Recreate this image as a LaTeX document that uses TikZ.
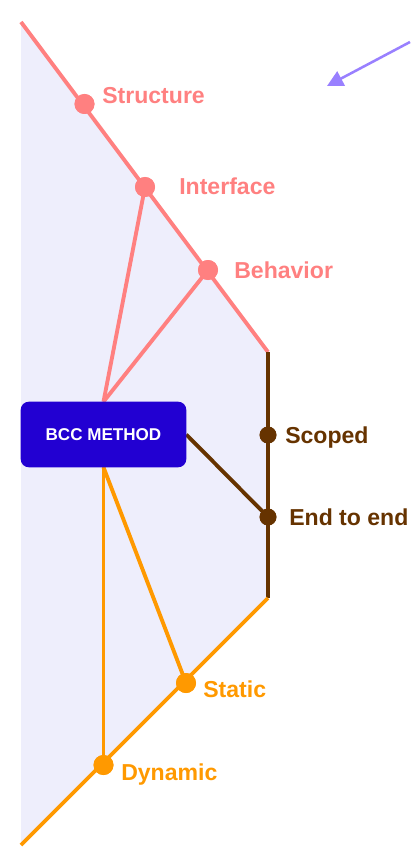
\documentclass[tikz,border=0pt]{standalone}
\usepackage{fontspec}
\setmainfont{Liberation Sans}
\usetikzlibrary{arrows.meta}
\definecolor{bgfill}{RGB}{238,238,252}
\definecolor{pinkc}{RGB}{255,128,128}
\definecolor{brownc}{RGB}{102,51,0}
\definecolor{orangec}{RGB}{255,153,0}
\definecolor{boxc}{RGB}{34,0,210}
\definecolor{arrowc}{RGB}{153,128,255}
\tikzset{
  seg/.style={line width=2.9pt},
  bigdot/.style={circle, fill=#1, inner sep=0pt, minimum size=15pt},
  smalldot/.style={circle, fill=#1, inner sep=0pt, minimum size=12.5pt},
  lbl/.style={anchor=base west, inner sep=0pt, font=\bfseries\fontsize{17.3}{19}\selectfont, text=#1},
  method/.style={rounded corners=6pt, fill=boxc}
}
\begin{document}
\begin{tikzpicture}[x=0.75pt,y=-0.75pt]
\useasboundingbox (0,0) rectangle (410,852);
% corners
\coordinate (tl) at (21,22);
\coordinate (tr) at (268,352);
\coordinate (br) at (268,598);
\coordinate (bl) at (21,845);
\fill[bgfill] (tl) -- (tr) -- (br) -- (bl) -- cycle;
% method box anchor node
\node[inner sep=0pt, minimum width=165*0.75pt, minimum height=65*0.75pt] (bcc) at (103.5,434.5) {};
% dots
\node[bigdot=pinkc] (structure) at (84.5,104) {};
\node[bigdot=pinkc] (interface) at (145,187) {};
\node[bigdot=pinkc] (behavior) at (208,270) {};
\node[smalldot=brownc] (scoped) at (268,435) {};
\node[smalldot=brownc] (endtoend) at (268,517) {};
\node[bigdot=orangec] (static) at (186,683) {};
\node[bigdot=orangec] (dynamic) at (103.5,765) {};
% lines
\draw[seg, pinkc] (tl) -- (tr);
\draw[seg, brownc] (tr) -- (br);
\draw[seg, orangec] (br) -- (bl);
\draw[seg, pinkc] (bcc.north) -- (interface.center);
\draw[seg, pinkc] (bcc.north) -- (behavior.center);
\draw[seg, brownc] (bcc.east) -- (endtoend.center);
\draw[seg, orangec] (bcc.south) -- (static.center);
\draw[seg, orangec] (bcc.south) -- (dynamic.center);
% redraw dots on top
\foreach \n/\c in {structure/pinkc, interface/pinkc, behavior/pinkc, static/orangec, dynamic/orangec}
  \fill[\c] (\n) circle (10);
\foreach \n in {scoped, endtoend}
  \fill[brownc] (\n) circle (8.5);
% box on top
\path[method] (bcc.south west) rectangle (bcc.north east);
\node[text=white, font=\bfseries\fontsize{12.8}{14}\selectfont, inner sep=0pt] (bcctext) at (bcc.center) {BCC METHOD};
% labels
\node[lbl=pinkc] (lstructure) at (102,104) {Structure};
\node[lbl=pinkc] (linterface) at (179,195) {Interface};
\node[lbl=pinkc] (lbehavior) at (234,278) {Behavior};
\node[lbl=brownc] (lscoped) at (285,443) {Scoped};
\node[lbl=brownc] (lend) at (289,525) {End to end};
\node[lbl=orangec] (lstatic) at (203,697) {Static};
\node[lbl=orangec] (ldynamic) at (121,780) {Dynamic};
% arrow
\coordinate (astart) at (410,42);
\coordinate (aend) at (327,86);
\draw[line width=1.9pt, arrowc, -{Triangle[length=12pt,width=12pt]}] (astart) -- (aend);
\end{tikzpicture}
\end{document}
